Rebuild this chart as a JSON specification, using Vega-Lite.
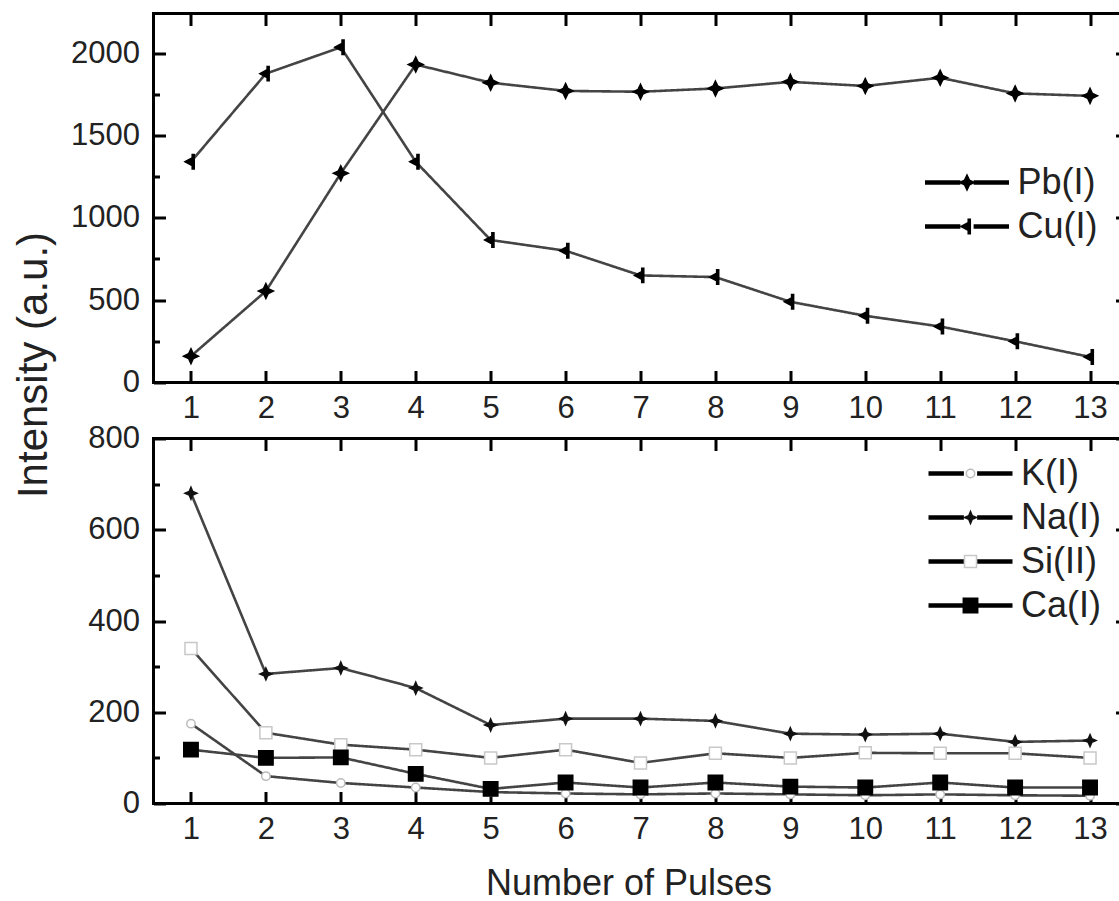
{
  "$schema": "https://vega.github.io/schema/vega-lite/v6.json",
  "background": "white",
  "padding": {"left": 10.5, "top": 10.5, "right": 0, "bottom": 12},
  "config": {
    "font": "Liberation Sans",
    "view": {"stroke": "#000", "strokeWidth": 3},
    "axis": {"grid": false, "domain": false, "tickColor": "#000", "tickWidth": 3, "labelColor": "#222", "labelFont": "Liberation Sans", "labelFontSize": 31, "labelFlush": false, "labelOverlap": false, "titleFont": "Liberation Sans", "titleColor": "#222", "titleFontWeight": "normal"},
    "legend": {"labelFont": "Liberation Sans", "labelColor": "#222"}
  },
  "datasets": {
    "top": [
      {"pulse": 1, "intensity": 160, "series": "Pb(I)"},
      {"pulse": 2, "intensity": 555, "series": "Pb(I)"},
      {"pulse": 3, "intensity": 1270, "series": "Pb(I)"},
      {"pulse": 4, "intensity": 1930, "series": "Pb(I)"},
      {"pulse": 5, "intensity": 1820, "series": "Pb(I)"},
      {"pulse": 6, "intensity": 1770, "series": "Pb(I)"},
      {"pulse": 7, "intensity": 1765, "series": "Pb(I)"},
      {"pulse": 8, "intensity": 1785, "series": "Pb(I)"},
      {"pulse": 9, "intensity": 1825, "series": "Pb(I)"},
      {"pulse": 10, "intensity": 1800, "series": "Pb(I)"},
      {"pulse": 11, "intensity": 1850, "series": "Pb(I)"},
      {"pulse": 12, "intensity": 1755, "series": "Pb(I)"},
      {"pulse": 13, "intensity": 1740, "series": "Pb(I)"},
      {"pulse": 1, "intensity": 1340, "series": "Cu(I)"},
      {"pulse": 2, "intensity": 1875, "series": "Cu(I)"},
      {"pulse": 3, "intensity": 2035, "series": "Cu(I)"},
      {"pulse": 4, "intensity": 1340, "series": "Cu(I)"},
      {"pulse": 5, "intensity": 865, "series": "Cu(I)"},
      {"pulse": 6, "intensity": 800, "series": "Cu(I)"},
      {"pulse": 7, "intensity": 650, "series": "Cu(I)"},
      {"pulse": 8, "intensity": 640, "series": "Cu(I)"},
      {"pulse": 9, "intensity": 490, "series": "Cu(I)"},
      {"pulse": 10, "intensity": 405, "series": "Cu(I)"},
      {"pulse": 11, "intensity": 340, "series": "Cu(I)"},
      {"pulse": 12, "intensity": 250, "series": "Cu(I)"},
      {"pulse": 13, "intensity": 155, "series": "Cu(I)"}
    ],
    "bottom": [
      {"pulse": 1, "intensity": 175, "series": "K(I)"},
      {"pulse": 2, "intensity": 60, "series": "K(I)"},
      {"pulse": 3, "intensity": 45, "series": "K(I)"},
      {"pulse": 4, "intensity": 35, "series": "K(I)"},
      {"pulse": 5, "intensity": 25, "series": "K(I)"},
      {"pulse": 6, "intensity": 22, "series": "K(I)"},
      {"pulse": 7, "intensity": 20, "series": "K(I)"},
      {"pulse": 8, "intensity": 22, "series": "K(I)"},
      {"pulse": 9, "intensity": 20, "series": "K(I)"},
      {"pulse": 10, "intensity": 18, "series": "K(I)"},
      {"pulse": 11, "intensity": 20, "series": "K(I)"},
      {"pulse": 12, "intensity": 18, "series": "K(I)"},
      {"pulse": 13, "intensity": 17, "series": "K(I)"},
      {"pulse": 1, "intensity": 680, "series": "Na(I)"},
      {"pulse": 2, "intensity": 284, "series": "Na(I)"},
      {"pulse": 3, "intensity": 297, "series": "Na(I)"},
      {"pulse": 4, "intensity": 253, "series": "Na(I)"},
      {"pulse": 5, "intensity": 172, "series": "Na(I)"},
      {"pulse": 6, "intensity": 186, "series": "Na(I)"},
      {"pulse": 7, "intensity": 186, "series": "Na(I)"},
      {"pulse": 8, "intensity": 181, "series": "Na(I)"},
      {"pulse": 9, "intensity": 153, "series": "Na(I)"},
      {"pulse": 10, "intensity": 151, "series": "Na(I)"},
      {"pulse": 11, "intensity": 153, "series": "Na(I)"},
      {"pulse": 12, "intensity": 135, "series": "Na(I)"},
      {"pulse": 13, "intensity": 138, "series": "Na(I)"},
      {"pulse": 1, "intensity": 340, "series": "Si(II)"},
      {"pulse": 2, "intensity": 155, "series": "Si(II)"},
      {"pulse": 3, "intensity": 129, "series": "Si(II)"},
      {"pulse": 4, "intensity": 118, "series": "Si(II)"},
      {"pulse": 5, "intensity": 100, "series": "Si(II)"},
      {"pulse": 6, "intensity": 118, "series": "Si(II)"},
      {"pulse": 7, "intensity": 89, "series": "Si(II)"},
      {"pulse": 8, "intensity": 110, "series": "Si(II)"},
      {"pulse": 9, "intensity": 100, "series": "Si(II)"},
      {"pulse": 10, "intensity": 111, "series": "Si(II)"},
      {"pulse": 11, "intensity": 110, "series": "Si(II)"},
      {"pulse": 12, "intensity": 110, "series": "Si(II)"},
      {"pulse": 13, "intensity": 100, "series": "Si(II)"},
      {"pulse": 1, "intensity": 118, "series": "Ca(I)"},
      {"pulse": 2, "intensity": 100, "series": "Ca(I)"},
      {"pulse": 3, "intensity": 101, "series": "Ca(I)"},
      {"pulse": 4, "intensity": 65, "series": "Ca(I)"},
      {"pulse": 5, "intensity": 32, "series": "Ca(I)"},
      {"pulse": 6, "intensity": 46, "series": "Ca(I)"},
      {"pulse": 7, "intensity": 35, "series": "Ca(I)"},
      {"pulse": 8, "intensity": 46, "series": "Ca(I)"},
      {"pulse": 9, "intensity": 37, "series": "Ca(I)"},
      {"pulse": 10, "intensity": 35, "series": "Ca(I)"},
      {"pulse": 11, "intensity": 46, "series": "Ca(I)"},
      {"pulse": 12, "intensity": 35, "series": "Ca(I)"},
      {"pulse": 13, "intensity": 35, "series": "Ca(I)"}
    ]
  },
  "bounds": "flush",
  "spacing": 56,
  "resolve": {
    "scale": {"shape": "independent", "fill": "independent", "stroke": "independent", "strokeDash": "independent"},
    "legend": {"shape": "independent", "fill": "independent", "stroke": "independent", "strokeDash": "independent"}
  },
  "vconcat": [
    {
      "width": 974,
      "height": 369,
      "data": {"name": "top"},
      "layer": [
        {
          "mark": {"type": "line", "stroke": "#444", "strokeWidth": 2.6},
          "encoding": {
            "x": {"field": "pulse", "type": "quantitative", "scale": {"domain": [0.5, 13.5], "nice": false, "zero": false},
              "axis": {"orient": "bottom", "values": [1,2,3,4,5,6,7,8,9,10,11,12,13], "format": "d", "tickSize": -12, "labelPadding": 22.5, "title": null}},
            "y": {"field": "intensity", "type": "quantitative", "scale": {"domain": [0, 2240], "nice": false},
              "axis": {"orient": "left", "values": [0,250,500,750,1000,1250,1500,1750,2000], "format": "d",
                "labelExpr": "datum.value % 500 === 0 ? datum.label : ''",
                "tickSize": {"condition": {"test": "datum.value % 500 === 0", "value": -12}, "value": -6},
                "labelPadding": 26,
                "title": "Intensity (a.u.)", "titleFontSize": 42, "titleAngle": 270, "titleBaseline": "alphabetic", "titleX": -107, "titleY": 351}},
            "strokeDash": {"field": "series", "type": "nominal",
              "scale": {"domain": ["Pb(I)", "Cu(I)", "_"], "range": [[1, 0], [1, 0], [1, 0]]},
              "legend": {"orient": "none", "legendX": 795.5, "legendY": 151, "title": null, "values": ["Pb(I)", "Cu(I)"],
                "symbolType": "M-7,0H-1.1M1.1,0H7", "symbolSize": 144, "symbolStrokeWidth": 4.5, "symbolStrokeColor": "#000", "symbolFillColor": "transparent",
                "labelFontSize": 36, "labelOpacity": 0, "labelOffset": 32.5, "rowPadding": 8, "padding": 0}}
          }
        },
        {
          "mark": {"type": "point", "size": 144, "filled": true, "strokeWidth": 1.5, "opacity": 1},
          "encoding": {
            "x": {"field": "pulse", "type": "quantitative",
              "axis": {"orient": "top", "values": [1,2,3,4,5,6,7,8,9,10,11,12,13], "tickSize": -12, "labels": false, "title": null}},
            "y": {"field": "intensity", "type": "quantitative",
              "axis": {"orient": "right", "values": [0,250,500,750,1000,1250,1500,1750,2000], "labels": false,
                "tickSize": {"condition": {"test": "datum.value % 500 === 0", "value": -12}, "value": -6}, "title": null}},
            "shape": {"field": "series", "type": "nominal",
              "scale": {"domain": ["Pb(I)", "Cu(I)"], "range": ["M0,-1.25L0.4,-0.4L1.25,0L0.4,0.4L0,1.25L-0.4,0.4L-1.25,0L-0.4,-0.4Z", "M-1,0L0.4,-0.75L0.4,0.75Z M0.2,-1.2L0.55,-1.2L0.55,1.2L0.2,1.2Z"]},
              "legend": {"orient": "none", "legendX": 795.5, "legendY": 151, "title": null, "symbolSize": 144, "symbolStrokeWidth": 1.5, "labelFontSize": 36, "labelOffset": 32.5, "rowPadding": 8, "padding": 0}},
            "fill": {"field": "series", "type": "nominal", "scale": {"domain": ["Pb(I)", "Cu(I)"], "range": ["#000", "#000"]},
              "legend": {"orient": "none", "legendX": 795.5, "legendY": 151, "title": null, "symbolSize": 144, "symbolStrokeWidth": 1.5, "labelFontSize": 36, "labelOffset": 32.5, "rowPadding": 8, "padding": 0}},
            "stroke": {"field": "series", "type": "nominal", "scale": {"domain": ["Pb(I)", "Cu(I)"], "range": ["#000", "#000"]},
              "legend": {"orient": "none", "legendX": 795.5, "legendY": 151, "title": null, "symbolSize": 144, "symbolStrokeWidth": 1.5, "labelFontSize": 36, "labelOffset": 32.5, "rowPadding": 8, "padding": 0}}
          }
        }
      ],
      "resolve": {"axis": {"x": "independent", "y": "independent"}}
    },
    {
      "width": 974,
      "height": 365,
      "data": {"name": "bottom"},
      "layer": [
        {
          "mark": {"type": "line", "stroke": "#444", "strokeWidth": 2.6},
          "encoding": {
            "x": {"field": "pulse", "type": "quantitative", "scale": {"domain": [0.5, 13.5], "nice": false, "zero": false},
              "axis": {"orient": "bottom", "values": [1,2,3,4,5,6,7,8,9,10,11,12,13], "format": "d", "tickSize": -12, "labelPadding": 22.5,
                "title": "Number of Pulses", "titleFontSize": 36, "titleX": 475, "titleY": 91, "titleBaseline": "alphabetic"}},
            "y": {"field": "intensity", "type": "quantitative", "scale": {"domain": [0, 800], "nice": false},
              "axis": {"orient": "left", "values": [0,100,200,300,400,500,600,700,800], "format": "d",
                "labelExpr": "datum.value % 200 === 0 ? datum.label : ''",
                "tickSize": {"condition": {"test": "datum.value % 200 === 0", "value": -12}, "value": -6},
                "labelPadding": 26, "title": null}},
            "strokeDash": {"field": "series", "type": "nominal",
              "scale": {"domain": ["K(I)", "Na(I)", "Si(II)", "Ca(I)", "_"], "range": [[1, 0], [1, 0], [1, 0], [1, 0], [1, 0]]},
              "legend": {"orient": "none", "legendX": 799, "legendY": 17, "title": null, "values": ["K(I)", "Na(I)", "Si(II)", "Ca(I)"],
                "symbolType": "M-7,0H-1.1M1.1,0H7", "symbolSize": 144, "symbolStrokeWidth": 4.5, "symbolStrokeColor": "#000", "symbolFillColor": "transparent",
                "labelFontSize": 36, "labelOpacity": 0, "labelOffset": 32.5, "rowPadding": 8, "padding": 0}}
          }
        },
        {
          "mark": {"type": "point", "size": 144, "filled": true, "strokeWidth": 1.5, "opacity": 1},
          "encoding": {
            "x": {"field": "pulse", "type": "quantitative",
              "axis": {"orient": "top", "values": [1,2,3,4,5,6,7,8,9,10,11,12,13], "tickSize": -12, "labels": false, "title": null}},
            "y": {"field": "intensity", "type": "quantitative",
              "axis": {"orient": "right", "values": [0,100,200,300,400,500,600,700,800], "labels": false,
                "tickSize": {"condition": {"test": "datum.value % 200 === 0", "value": -12}, "value": -6}, "title": null}},
            "shape": {"field": "series", "type": "nominal",
              "scale": {"domain": ["K(I)", "Na(I)", "Si(II)", "Ca(I)"], "range": ["M0.7,0A0.7,0.7,0,1,1,-0.7,0A0.7,0.7,0,1,1,0.7,0Z", "M0,-1L0.3,-0.3L1,0L0.3,0.3L0,1L-0.3,0.3L-1,0L-0.3,-0.3Z", "M-1,-1H1V1H-1Z", "M-1.2,-1.2H1.2V1.2H-1.2Z"]},
              "legend": {"orient": "none", "legendX": 799, "legendY": 17, "title": null, "symbolSize": 144, "symbolStrokeWidth": 1.5, "labelFontSize": 36, "labelOffset": 32.5, "rowPadding": 8, "padding": 0}},
            "fill": {"field": "series", "type": "nominal", "scale": {"domain": ["K(I)", "Na(I)", "Si(II)", "Ca(I)"], "range": ["#fff", "#111", "#fff", "#000"]},
              "legend": {"orient": "none", "legendX": 799, "legendY": 17, "title": null, "symbolSize": 144, "symbolStrokeWidth": 1.5, "labelFontSize": 36, "labelOffset": 32.5, "rowPadding": 8, "padding": 0}},
            "stroke": {"field": "series", "type": "nominal", "scale": {"domain": ["K(I)", "Na(I)", "Si(II)", "Ca(I)"], "range": ["#bbb", "#111", "#c8c8c8", "#000"]},
              "legend": {"orient": "none", "legendX": 799, "legendY": 17, "title": null, "symbolSize": 144, "symbolStrokeWidth": 1.5, "labelFontSize": 36, "labelOffset": 32.5, "rowPadding": 8, "padding": 0}}
          }
        }
      ],
      "resolve": {"axis": {"x": "independent", "y": "independent"}}
    }
  ]
}
